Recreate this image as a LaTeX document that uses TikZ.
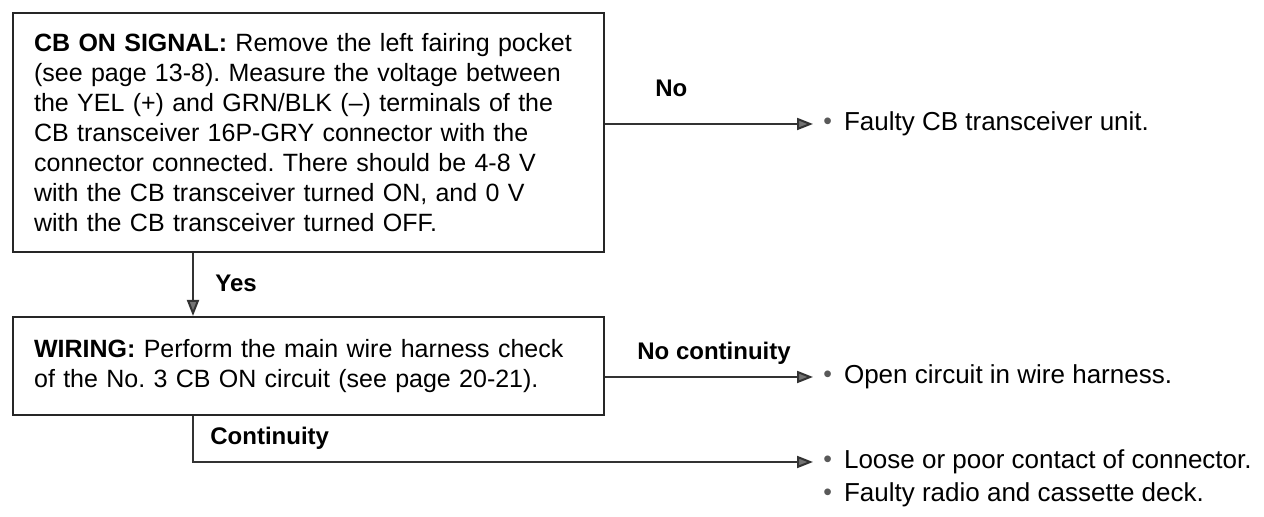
\documentclass[tikz,border=0pt]{standalone}
\usepackage{fontspec}
\usepackage{graphicx}
\setmainfont{Liberation Sans}
\usetikzlibrary{arrows.meta}
\frenchspacing
\tikzset{
  stepbox/.style={draw=black!85, line width=1.1pt, rectangle, anchor=north west,
    minimum width=295.5pt, inner xsep=10.5pt, inner ysep=0pt,
    text width=274.5pt, align=left, font=\fontsize{12.5pt}{15pt}\selectfont},
  conn/.style={draw=black!80, line width=1pt,
    -{Triangle[length=8pt,width=6pt,fill=black!55]}},
  lbl/.style={anchor=west, inner sep=0pt, font=\fontsize{12pt}{14pt}\selectfont\bfseries},
  result/.style={anchor=west, inner sep=0pt, font=\fontsize{13pt}{15pt}\selectfont},
}
\newcommand{\bul}{\kern5pt\textcolor{black!65}{\raisebox{0.05em}{\scalebox{0.95}{•}}}\kern6pt}
\begin{document}
\begin{tikzpicture}[x=0.5pt,y=-0.5pt]
\useasboundingbox (0,0) rectangle (1264,517);
\coordinate (yx) at (193,0);
\node[stepbox, minimum height=119.5pt] (box1) at (12,12) {%
\textbf{CB ON SIGNAL:} Remove the left fairing pocket\\
(see page 13-8). Measure the voltage between\\
the YEL (+) and GRN/BLK (--) terminals of the\\
CB transceiver 16P-GRY connector with the\\
connector connected. There should be 4-8 V\\
with the CB transceiver turned ON, and 0 V\\
with the CB transceiver turned OFF.};
\node[stepbox, minimum height=49pt] (box2) at (12,316) {%
\textbf{WIRING:} Perform the main wire harness check\\
of the No. 3 CB ON circuit (see page 20-21).};
\node[result] (res1) at (813,124) {\bul Faulty CB transceiver unit.};
\node[result] (res2) at (813,377) {\bul Open circuit in wire harness.};
\node[result] (loose) at (813,462) {\bul Loose or poor contact of connector.};
\node[result] (radio) at (813,495) {\bul Faulty radio and cassette deck.};
\node[lbl] (lno) at (655,88) {No};
\node[lbl] (lyes) at (215,283) {Yes};
\node[lbl] (lnoc) at (637,353) {No continuity};
\node[lbl] (lcont) at (210,438) {Continuity};
\draw[conn] (box1.east |- res1.west) -- (res1.west);
\draw[conn] (box1.south -| yx) -- (box2.north -| yx);
\draw[conn] (box2.east |- res2.west) -- (res2.west);
\draw[conn] (box2.south -| yx) |- (loose.west);
\end{tikzpicture}
\end{document}
